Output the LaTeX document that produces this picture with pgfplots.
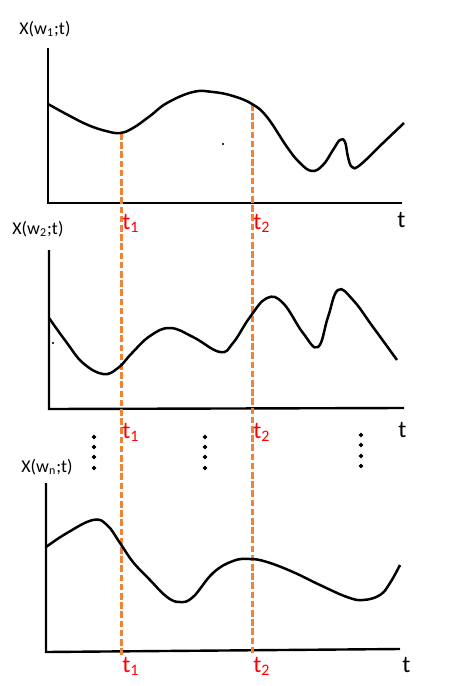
\documentclass[border=0pt]{standalone}
\usepackage{pgfplots}
\pgfplotsset{compat=1.18}
\usepackage{fontspec}
\setmainfont{Carlito}
\definecolor{dashorange}{HTML}{F28235}
\definecolor{labelred}{HTML}{FF0000}

\begin{document}
\begin{tikzpicture}[
  ylab/.style={anchor=west, font=\fontsize{9}{10}\selectfont, inner sep=0pt},
  tlab/.style={anchor=base west, text=labelred, font=\fontsize{12}{12}\selectfont, inner sep=0pt},
  axlab/.style={anchor=base west, font=\fontsize{12}{12}\selectfont, inner sep=0pt},
]
\begin{axis}[
  width=231pt, height=343pt, scale only axis,
  xmin=0, xmax=462, ymin=0, ymax=686, y dir=reverse,
  hide axis, clip=false,
]
% page extent
\addplot[draw=none] coordinates {(0,0) (462,686)};

% L-shaped axes of the three realisations
\addplot[black, line width=1.2pt, line join=miter] coordinates {(48,48) (48,203) (402,203)};
\addplot[black, line width=1.2pt, line join=miter] coordinates {(49,250) (49,409) (404,408)};
\addplot[black, line width=1.2pt, line join=miter] coordinates {(46,483) (46,652) (400,649)};

% sampling instants t1 and t2
\addplot[dashorange, line width=1.5pt, dash pattern=on 3.3pt off 1.3pt] coordinates {(121,133) (121,656)};
\addplot[dashorange, line width=1.5pt, dash pattern=on 3.3pt off 1.3pt] coordinates {(252,104) (252,656)};

% X(w1;t)
\addplot[black, line width=1.25pt, smooth, tension=0.7] coordinates {
  (48,104) (68,115) (88,125) (106,131) (120,133) (133,128) (150,116) (167,103) (193,92) (213,92)
  (233,96) (252,104) (267,117) (287,147) (300,163) (312,171) (323,165)
  (333,150) (340,140) (345,142) (348,157) (352,167) (360,165) (383,143) (404,123)};

% X(w2;t)
\addplot[black, line width=1.25pt, smooth, tension=0.7] coordinates {
  (49,318) (67,343) (83,363) (103,374) (118,368) (132,353) (150,336) (170,328)
  (193,337) (220,352) (233,343) (250,317) (267,298) (283,303) (303,333)
  (318,347) (328,317) (338,290) (353,300) (373,327) (397,360)};

% X(wn;t)
\addplot[black, line width=1.25pt, smooth, tension=0.7] coordinates {
  (46,547) (67,533) (93,520) (107,525) (120,543) (133,562) (150,580)
  (167,597) (180,602) (193,597) (213,573) (233,561) (250,559) (267,562)
  (293,572) (320,585) (347,597) (363,600) (380,595) (390,583) (400,565)};

% vertical ellipses between the second and the last realisation
\addplot[only marks, mark=*, mark size=0.85pt, black] coordinates {
  (94,437) (94,447) (94,457) (94,468)
  (205,437) (205,447) (205,457) (205,468)
  (361,435) (361,445) (361,456) (361,466)};
\addplot[only marks, mark=*, mark size=0.3pt, black] coordinates {(223,144) (53,343)};

% labels
\node[ylab] at (axis cs:19,29) {X(w\textsubscript{1};t)};
\node[ylab] at (axis cs:12,229) {X(w\textsubscript{2};t)};
\node[ylab] at (axis cs:21,467) {X(w\textsubscript{n};t)};

\node[tlab] at (axis cs:122,229) {t\textsubscript{1}};
\node[tlab] at (axis cs:253,229) {t\textsubscript{2}};
\node[tlab] at (axis cs:122,438) {t\textsubscript{1}};
\node[tlab] at (axis cs:253,438) {t\textsubscript{2}};
\node[tlab] at (axis cs:122,672) {t\textsubscript{1}};
\node[tlab] at (axis cs:253,672) {t\textsubscript{2}};

\node[axlab] at (axis cs:397,227) {t};
\node[axlab] at (axis cs:398,437) {t};
\node[axlab] at (axis cs:402,672) {t};
\end{axis}
\end{tikzpicture}
\end{document}
